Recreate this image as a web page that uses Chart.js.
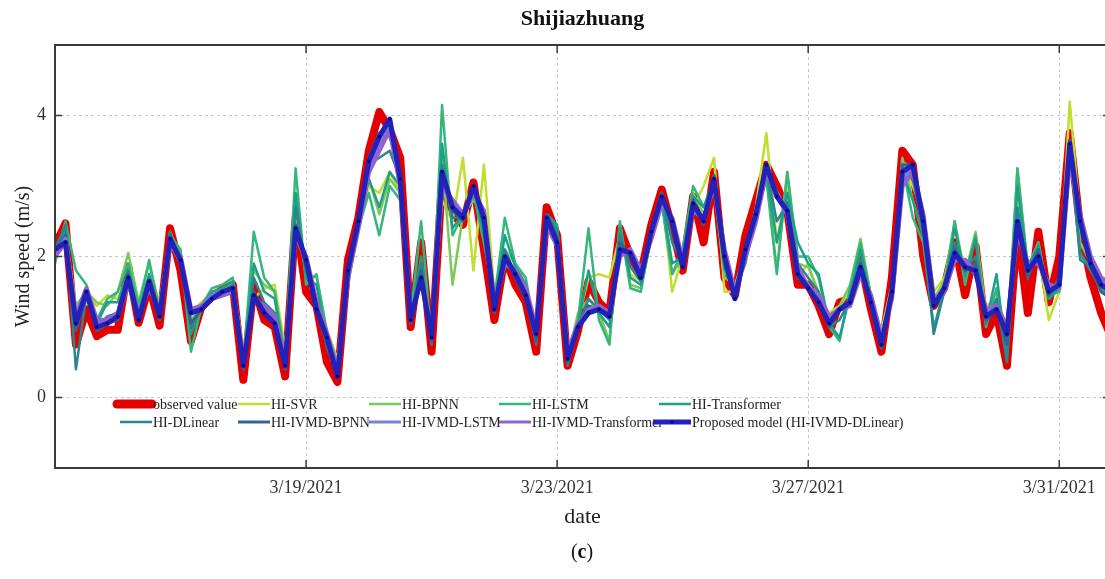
<!DOCTYPE html>
<html>
<head>
<meta charset="utf-8">
<script src="https://cdn.jsdelivr.net/npm/chart.js@4.4.0/dist/chart.umd.min.js"></script>
<style>
html, body { margin: 0; padding: 0; background: #fff; overflow: hidden; }
#wrap { width: 1115px; height: 579px; }
</style>
</head>
<body>
<div id="wrap"><canvas id="chart" width="1115" height="579"></canvas></div>
<script>
// time axis: hours since 3/15/2021 00:00, one sample every 4 hours
var STEP_HOURS = 4;
var xTickHours = [96, 192, 288, 384];
var xTickLabels = ['3/19/2021', '3/23/2021', '3/27/2021', '3/31/2021'];
var yTicks = [0, 2, 4];

var observed = [2.15,2.47,0.75,1.25,0.87,0.96,0.96,1.86,1.06,1.6,
  1.02,2.4,1.8,0.8,1.29,1.43,1.53,1.6,0.25,1.6,
  1.1,1.0,0.3,2.55,1.5,1.3,0.5,0.22,1.95,2.55,
  3.5,4.05,3.8,3.4,1.0,2.2,0.65,3.1,2.6,2.45,
  3.05,2.1,1.1,2.0,1.6,1.35,0.65,2.7,2.3,0.45,
  0.95,1.65,1.35,1.2,2.4,2.0,1.75,2.45,2.95,2.4,
  1.8,2.85,2.2,3.2,1.7,1.45,2.3,2.8,3.3,3.0,
  2.65,1.6,1.6,1.3,0.9,1.35,1.4,1.95,1.25,0.65,
  1.7,3.5,3.3,2.0,1.3,1.55,2.2,1.45,2.15,0.9,
  1.2,0.45,2.4,1.2,2.35,1.35,2.0,3.75,2.4,1.7,
  1.2,0.85];
var hiSVR = [2.0,2.3,1.2,1.45,1.3,1.45,1.4,1.75,1.3,1.7,
  1.35,2.2,1.9,1.2,1.35,1.45,1.55,1.6,0.7,1.4,
  1.55,1.6,0.7,2.3,1.9,1.4,0.95,0.55,1.6,2.4,
  3.0,2.9,3.2,2.9,1.3,1.6,1.0,2.8,2.5,3.4,
  1.8,3.3,1.5,1.9,1.8,1.55,1.0,2.5,2.2,0.6,
  1.1,1.7,1.75,1.7,2.3,1.75,1.65,2.3,2.9,1.5,
  2.0,2.7,3.0,3.4,1.5,1.5,2.0,2.7,3.75,2.2,
  3.05,1.7,1.9,1.45,1.2,1.3,1.5,2.1,1.4,0.95,
  1.6,3.3,3.0,2.6,1.5,1.7,2.1,1.8,1.9,1.3,
  1.4,1.0,2.9,1.9,2.1,1.1,1.5,4.2,2.5,2.0,
  1.7,1.6];
var hiBPNN = [2.0,2.35,1.3,1.5,1.35,1.3,1.5,2.05,1.35,1.9,
  1.3,2.35,2.0,1.1,1.3,1.5,1.5,1.65,0.6,1.8,
  1.6,1.5,0.6,2.6,1.75,1.7,0.95,0.5,1.7,2.5,
  3.1,2.6,3.1,2.9,1.2,1.8,0.9,3.4,1.6,2.6,
  2.8,2.6,1.4,2.1,1.9,1.6,0.9,2.5,2.4,0.55,
  1.2,1.4,1.2,0.8,2.45,1.6,1.55,2.3,2.8,1.75,
  2.0,2.9,2.6,3.0,1.7,1.6,2.05,2.6,3.2,1.8,
  3.2,1.9,1.85,1.5,1.1,1.3,1.6,2.25,1.45,0.9,
  1.5,3.4,2.8,2.3,1.4,1.65,2.5,1.75,2.35,1.2,
  1.5,0.8,3.25,1.85,2.2,1.4,1.55,3.5,2.2,1.9,
  1.6,1.5];
var hiLSTM = [1.9,2.5,1.8,1.6,1.1,1.4,1.5,1.9,1.3,1.95,
  1.2,2.3,2.1,0.65,1.3,1.55,1.6,1.7,0.5,2.35,
  1.7,1.5,0.55,3.25,1.6,1.75,0.9,0.45,1.6,2.4,
  2.9,2.3,3.0,2.8,1.15,2.5,0.8,4.15,2.3,2.6,
  2.9,2.2,1.4,2.55,1.9,1.7,0.85,2.6,2.4,0.5,
  1.1,2.4,1.1,0.75,2.5,1.55,1.5,2.3,2.75,1.75,
  2.1,3.0,2.7,3.0,1.8,1.55,2.0,2.55,3.1,1.75,
  3.2,2.0,2.0,1.7,1.0,0.8,1.55,2.2,1.4,0.9,
  1.45,3.3,2.55,2.2,1.0,1.5,2.5,1.6,2.3,1.0,
  1.55,0.6,3.25,1.8,2.2,1.45,1.5,3.6,2.0,1.85,
  1.5,1.45];
var hiTransformer = [2.05,2.4,1.1,1.45,1.05,1.35,1.35,1.8,1.2,1.75,
  1.2,2.3,2.0,0.9,1.3,1.5,1.55,1.65,0.45,1.9,
  1.5,1.4,0.5,2.9,1.7,1.6,0.8,0.4,1.7,2.45,
  3.1,2.7,3.2,3.0,1.1,2.0,0.8,3.6,2.4,2.6,
  3.0,2.3,1.3,2.3,1.85,1.6,0.8,2.6,2.45,0.5,
  1.05,1.8,1.2,1.0,2.4,1.7,1.6,2.4,2.85,1.9,
  2.0,2.85,2.7,3.1,1.9,1.5,1.9,2.6,3.2,2.2,
  2.9,2.2,1.9,1.75,1.05,0.85,1.45,2.1,1.35,0.85,
  1.5,3.2,2.8,2.3,0.95,1.55,2.4,1.75,2.25,1.05,
  1.75,0.55,3.0,1.85,2.15,1.4,1.55,3.65,2.05,1.8,
  1.55,1.45];
var hiDLinear = [2.1,2.45,0.4,1.45,1.0,1.15,1.2,1.8,1.15,1.65,
  1.15,2.35,1.9,1.0,1.3,1.45,1.5,1.6,0.4,1.7,
  1.35,1.2,0.45,2.7,1.8,1.4,0.7,0.35,1.75,2.5,
  3.3,3.4,3.5,3.1,1.05,1.9,0.75,3.3,2.55,2.55,
  3.0,2.4,1.2,2.1,1.75,1.5,0.75,2.6,2.35,0.45,
  1.0,1.4,1.25,1.1,2.3,1.85,1.65,2.4,2.9,2.2,
  1.9,2.8,2.5,3.15,1.85,1.5,2.1,2.65,3.25,2.5,
  2.75,1.9,1.7,1.5,1.0,1.1,1.4,1.95,1.3,0.75,
  1.55,3.25,3.1,2.4,0.9,1.5,2.2,1.8,2.0,1.05,
  1.4,0.5,2.7,1.85,2.1,1.45,1.6,3.6,1.95,1.85,
  1.5,1.4];
var ivmdBPNN = [2.1,2.3,0.95,1.45,0.95,1.05,1.1,1.75,1.1,1.6,
  1.1,2.3,1.9,1.05,1.25,1.45,1.5,1.55,0.4,1.5,
  1.2,1.05,0.4,2.45,1.85,1.25,0.75,0.3,1.85,2.5,
  3.4,3.75,3.85,3.15,1.05,1.8,0.8,3.1,2.65,2.5,
  3.0,2.45,1.2,2.0,1.7,1.4,0.8,2.6,2.25,0.5,
  1.0,1.3,1.25,1.15,2.2,2.0,1.7,2.4,2.9,2.45,
  1.85,2.8,2.45,3.15,1.9,1.45,2.15,2.65,3.3,2.9,
  2.65,1.7,1.6,1.35,1.0,1.25,1.4,1.9,1.3,0.7,
  1.55,3.3,3.3,2.4,1.3,1.55,2.1,1.8,1.9,1.1,
  1.25,0.75,2.45,1.7,2.1,1.45,1.7,3.65,2.45,1.85,
  1.5,1.4];
var ivmdLSTM = [2.05,2.25,1.1,1.5,1.05,1.1,1.15,1.65,1.15,1.6,
  1.2,2.2,1.95,1.2,1.3,1.45,1.5,1.55,0.5,1.45,
  1.25,1.1,0.5,2.35,1.95,1.3,0.85,0.35,1.75,2.45,
  3.3,3.6,3.85,3.05,1.15,1.7,0.9,3.05,2.75,2.55,
  2.95,2.6,1.3,1.95,1.75,1.5,0.95,2.5,2.2,0.6,
  1.0,1.25,1.3,1.2,2.05,2.05,1.75,2.3,2.8,2.5,
  1.9,2.7,2.5,3.05,2.05,1.45,2.05,2.55,3.25,2.85,
  2.6,1.8,1.6,1.4,1.1,1.25,1.35,1.8,1.4,0.8,
  1.45,3.1,3.25,2.55,1.35,1.55,2.0,1.9,1.8,1.2,
  1.3,0.95,2.4,1.85,1.95,1.55,1.6,3.5,2.55,1.95,
  1.65,1.55];
var ivmdTransformer = [2.0,2.2,1.15,1.55,1.1,1.1,1.2,1.6,1.2,1.55,
  1.25,2.15,2.0,1.25,1.3,1.4,1.45,1.5,0.55,1.4,
  1.3,1.15,0.55,2.3,2.0,1.35,0.9,0.4,1.7,2.4,
  3.2,3.5,3.8,3.0,1.2,1.65,0.95,3.0,2.8,2.6,
  2.9,2.65,1.35,1.9,1.8,1.55,1.0,2.45,2.15,0.65,
  1.05,1.2,1.3,1.2,2.0,2.1,1.8,2.25,2.75,2.55,
  1.95,2.65,2.55,3.0,2.1,1.5,2.0,2.5,3.2,2.9,
  2.6,1.85,1.55,1.45,1.15,1.25,1.3,1.75,1.45,0.85,
  1.4,3.0,3.2,2.6,1.4,1.5,1.95,1.95,1.75,1.25,
  1.3,1.0,2.35,1.9,1.9,1.6,1.55,3.4,2.6,2.0,
  1.7,1.6];
var proposed = [2.1,2.2,1.05,1.5,1.0,1.05,1.15,1.7,1.1,1.65,
  1.15,2.25,1.95,1.2,1.25,1.4,1.5,1.55,0.45,1.45,
  1.2,1.05,0.45,2.4,1.95,1.25,0.85,0.3,1.8,2.5,
  3.35,3.7,3.95,3.1,1.1,1.7,0.85,3.2,2.7,2.55,
  3.0,2.55,1.25,2.0,1.75,1.45,0.9,2.55,2.2,0.55,
  1.0,1.2,1.25,1.15,2.1,2.05,1.7,2.35,2.85,2.5,
  1.85,2.75,2.5,3.1,2.0,1.4,2.1,2.6,3.3,2.85,
  2.65,1.75,1.55,1.35,1.05,1.25,1.35,1.85,1.35,0.75,
  1.5,3.2,3.3,2.5,1.3,1.55,2.05,1.85,1.8,1.15,
  1.25,0.9,2.5,1.8,2.0,1.5,1.6,3.6,2.5,1.9,
  1.6,1.5];

var hours = observed.map(function (v, i) { return i * STEP_HOURS; });

var SERIF = "'Liberation Serif', 'Times New Roman', serif";

function serie(label, data, color, width, order) {
    return {
        label: label, data: data, borderColor: color, backgroundColor: color,
        borderWidth: width, pointRadius: 0, tension: 0, fill: false, order: order,
        borderJoinStyle: 'round', borderCapStyle: 'round'
    };
}

var datasets = [
    serie('observed value', observed, '#e50000', 8, 10),
    serie('HI-SVR', hiSVR, '#c3dd2e', 2.5, 9),
    serie('HI-BPNN', hiBPNN, '#79c95b', 2.5, 8),
    serie('HI-LSTM', hiLSTM, '#35b77b', 2.5, 7),
    serie('HI-Transformer', hiTransformer, '#1f9e8a', 2.5, 6),
    serie('HI-DLinear', hiDLinear, '#2a8590', 2.5, 5),
    serie('HI-IVMD-BPNN', ivmdBPNN, '#34638f', 3, 4),
    serie('HI-IVMD-LSTM', ivmdLSTM, '#7b80d3', 4, 3),
    serie('HI-IVMD-Transformer', ivmdTransformer, '#9263cf', 4.5, 2),
    serie('Proposed model (HI-IVMD-DLinear)', proposed, '#2222b8', 5, 1)
];
datasets[9].pointRadius = 1.8;
datasets[9].pointBackgroundColor = '#0b0b86';
datasets[9].pointBorderWidth = 0;

// legend: column text positions as in the figure
var legendCols = [153, 271, 402, 532, 692];
var legendRows = [404, 422];

var figurePlugin = {
    id: 'figure',
    afterDatasetsDraw: function (chart) {
        var ctx = chart.ctx, a = chart.chartArea;
        var xs = chart.scales.x, ys = chart.scales.y;
        ctx.save();
        ctx.strokeStyle = '#3a3a3a';
        ctx.lineWidth = 2;
        ctx.strokeRect(a.left, a.top, a.right - a.left, a.bottom - a.top);
        ctx.lineWidth = 1.5;
        ctx.beginPath();
        yTicks.forEach(function (v) {
            var p = ys.getPixelForValue(v);
            ctx.moveTo(a.left, p); ctx.lineTo(a.left + 7, p);
            ctx.moveTo(a.right, p); ctx.lineTo(a.right - 7, p);
        });
        xTickHours.forEach(function (h) {
            var p = xs.getPixelForValue(h);
            ctx.moveTo(p, a.bottom); ctx.lineTo(p, a.bottom - 8);
            ctx.moveTo(p, a.top); ctx.lineTo(p, a.top + 8);
        });
        ctx.stroke();
        ctx.restore();
    },
    afterDraw: function (chart) {
        var ctx = chart.ctx, a = chart.chartArea;
        ctx.save();
        // title centred over the plot
        ctx.font = 'bold 22px ' + SERIF;
        ctx.fillStyle = '#111';
        ctx.textAlign = 'center';
        ctx.textBaseline = 'middle';
        ctx.fillText('Shijiazhuang', (a.left + a.right) / 2, 19);

        ctx.font = '14px ' + SERIF;
        ctx.textBaseline = 'middle';
        ctx.textAlign = 'left';
        chart.data.datasets.forEach(function (ds, i) {
            var tx = legendCols[i % 5], ty = legendRows[Math.floor(i / 5)];
            var x0 = tx - 33, x1 = tx - 1;
            if (i === 0) x0 = tx - 36;
            if (i === 9) x0 = tx - 39;
            ctx.strokeStyle = ds.borderColor;
            ctx.lineWidth = i === 0 ? 9 : (i === 9 ? 5 : Math.min(ds.borderWidth, 3));
            ctx.lineCap = i === 0 ? 'round' : 'butt';
            ctx.beginPath();
            ctx.moveTo(x0, ty); ctx.lineTo(x1, ty);
            ctx.stroke();
            if (i === 9) {
                ctx.fillStyle = ds.pointBackgroundColor;
                ctx.beginPath();
                ctx.arc((x0 + x1) / 2, ty, 1.8, 0, Math.PI * 2);
                ctx.fill();
            }
            ctx.fillStyle = '#222';
            ctx.fillText(ds.label, tx, ty + 1);
        });
        // panel letter "(c)"
        var cx = 582, cy = 553;
        ctx.fillStyle = '#111';
        ctx.font = '20px ' + SERIF;
        var wp = ctx.measureText('(').width;
        ctx.font = 'bold 20px ' + SERIF;
        var wc = ctx.measureText('c').width;
        var left = cx - (2 * wp + wc) / 2;
        ctx.font = '20px ' + SERIF;
        ctx.fillText('(', left, cy);
        ctx.fillText(')', left + wp + wc, cy);
        ctx.font = 'bold 20px ' + SERIF;
        ctx.fillText('c', left + wp, cy);
        ctx.restore();
    }
};

new Chart(document.getElementById('chart'), {
    type: 'line',
    data: { labels: hours, datasets: datasets },
    plugins: [figurePlugin],
    options: {
        responsive: false,
        animation: false,
        devicePixelRatio: 1,
        layout: { padding: { top: 45, left: 0, right: 5, bottom: 0 } },
        plugins: {
            legend: { display: false },
            tooltip: { enabled: false },
            title: { display: false }
        },
        scales: {
            x: {
                type: 'linear', min: 0, max: 403.4,
                afterFit: function (s) { s.height = 111; },
                afterBuildTicks: function (s) { s.ticks = xTickHours.map(function (h) { return { value: h }; }); },
                ticks: {
                    color: '#333', padding: 9, maxRotation: 0, autoSkip: false,
                    font: { family: SERIF, size: 18 },
                    callback: function (v) { var i = xTickHours.indexOf(v); return i >= 0 ? xTickLabels[i] : ''; }
                },
                grid: { color: '#c9c9c9', lineWidth: 1, drawTicks: false },
                border: { display: false, dash: [3, 3] },
                title: {
                    display: true, text: 'date', color: '#222',
                    font: { family: SERIF, size: 22 }, padding: { top: 0, bottom: 49 }
                }
            },
            y: {
                min: -1, max: 5,
                afterFit: function (s) { s.width = 55; },
                afterBuildTicks: function (s) { s.ticks = yTicks.map(function (v) { return { value: v }; }); },
                ticks: { color: '#333', padding: 9, font: { family: SERIF, size: 18 } },
                grid: { color: '#c9c9c9', lineWidth: 1, drawTicks: false },
                border: { display: false, dash: [3, 3] },
                title: {
                    display: true, text: 'Wind speed (m/s)', color: '#222',
                    font: { family: SERIF, size: 20 }, padding: { top: 12, bottom: 0 }
                }
            }
        }
    }
});
</script>
</body>
</html>
